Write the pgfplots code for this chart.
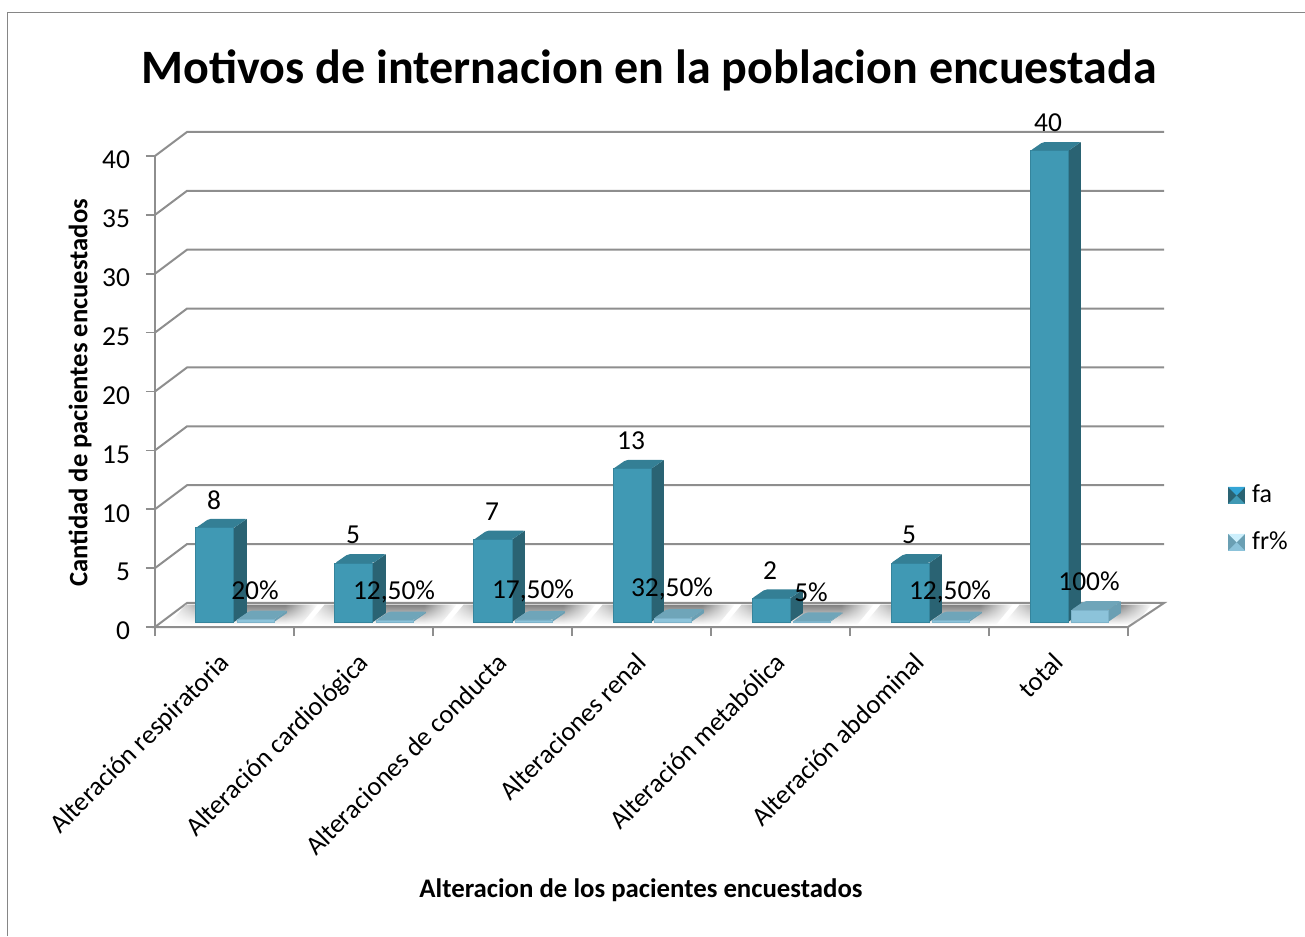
\documentclass[border=0pt]{standalone}
\usepackage{fontspec}
\setmainfont{Carlito}
\usepackage{pgfplots}
\usepackage{pgfplotstable}
\usetikzlibrary{fadings}
\pgfplotsset{compat=1.18}
\definecolor{gridc}{HTML}{8E8E8E}
\definecolor{frame}{HTML}{868686}
\definecolor{faF}{HTML}{4099B4}
\definecolor{faE}{HTML}{35849C}
\definecolor{faS}{HTML}{2A6373}
\definecolor{faT}{HTML}{347F95}
\definecolor{frF}{HTML}{8CC3DA}
\definecolor{frE}{HTML}{7DB3CA}
\definecolor{frS}{HTML}{6A9FB3}
\definecolor{frT}{HTML}{6FA5B9}
\definecolor{shad}{HTML}{808080}
\pgfdeclarehorizontalshading{floorshadow}{100bp}{color(0bp)=(white); color(25bp)=(white); color(40bp)=(shad); color(64bp)=(shad); color(75bp)=(white); color(100bp)=(white)}
\pgfplotstableread{
cat fa fr frlabel
0 8 0.2 20\%
1 5 0.125 12,50\%
2 7 0.175 17,50\%
3 13 0.325 32,50\%
4 2 0.05 5\%
5 5 0.125 12,50\%
6 40 1 100\%
}\motivos
\newcommand{\faces}[6]{%
  \pgfmathsetmacro{\xL}{#1+#2/139}%
  \pgfmathsetmacro{\xR}{\xL+#3/139}%
  \pgfmathsetmacro{\xRd}{\xR+13/139}%
  \pgfmathsetmacro{\xLd}{\xL+13/139}%
  \pgfmathsetmacro{\yb}{5/11.775}%
  \pgfmathsetmacro{\ybd}{\yb+0.764}%
  \pgfmathsetmacro{\yt}{\yb+#4}%
  \pgfmathsetmacro{\ytd}{\yt+0.764}%
  \addplot[forget plot,fill=#5,draw=none] coordinates {(\xR,\yb)(\xRd,\ybd)(\xRd,\ytd)(\xR,\yt)} --cycle;
  \addplot[forget plot,fill=#6,draw=none,rounded corners=1pt] coordinates {(\xL,\yt)(\xR,\yt)(\xRd,\ytd)(\xLd,\ytd)} --cycle;
}
\newcommand{\wall}[1]{%
  \pgfmathsetmacro{\yy}{#1+2.04}%
  \addplot[forget plot,color=gridc,line width=1pt] coordinates {(0,#1)(0.2302,\yy)(7.259,\yy)};
}
\newcommand{\shadow}[1]{%
  \pgfmathsetmacro{\xa}{#1+0.10}%
  \pgfmathsetmacro{\xb}{#1+1.05}%
  \pgfmathsetmacro{\xc}{#1+0.22}%
  \pgfmathsetmacro{\xd}{#1+1.17}%
  \addplot[forget plot,draw=none,shading=floorshadow,path fading=south] coordinates {(\xa,0.2)(\xb,0.2)(\xd,1.9)(\xc,1.9)} --cycle;
}
\begin{document}
\begin{tikzpicture}
\useasboundingbox (-77.5pt,-154.5pt) rectangle (575pt,313.5pt);
\draw[frame,line width=0.7pt] (-73.75pt,-154.5pt) -- (-73.75pt,307.25pt) -- (575pt,307.25pt);
\begin{axis}[
  at={(0,0)},anchor=south west,
  scale only axis,width=486.5pt,height=235.5pt,
  xmin=0,xmax=7,ymin=0,ymax=40,clip=false,
  axis x line*=bottom,axis y line*=left,
  axis line style={gridc,line width=1pt},
  tick style={gridc,line width=0.8pt},
  major tick length=4.5pt,
  tick align=outside,
  ytick={0,5,...,40},
  xtick={0,1,...,7},
  xticklabels={},
  extra x ticks={0.5,1.5,2.5,3.5,4.5,5.5,6.5},
  extra x tick labels={Alteración respiratoria,Alteración cardiológica,Alteraciones de conducta,Alteraciones renal,Alteración metabólica,Alteración abdominal,total},
  extra x tick style={major tick length=0pt,tick label style={font=\fontsize{13.3}{16}\selectfont,xshift=-3.3pt,yshift=-11.8pt,rotate=45,anchor=north east,inner sep=0pt}},
  tick label style={font=\fontsize{13.7}{16}\selectfont,black},
  /pgf/number format/assume math mode=true,
  yticklabel style={xshift=-4.5pt,yshift=-2pt},
  title={Motivos de internacion en la poblacion encuestada},
  title style={at={(axis description cs:0.508,1.189)},anchor=center,yshift=-7.5pt,font=\fontsize{24}{28}\selectfont\bfseries},
  xlabel={Alteracion de los pacientes encuestados},
  xlabel style={at={(axis description cs:0.4995,0)},anchor=center,yshift=-131.5pt,font=\fontsize{13.4}{16}\selectfont\bfseries},
  ylabel={Cantidad de pacientes encuestados},
  ylabel style={at={(axis description cs:0,0.497)},rotate=0,anchor=center,yshift=37.5pt,font=\fontsize{13.3}{16}\selectfont\bfseries},
  legend style={at={(rel axis cs:1.1025,0.3065)},anchor=north west,draw=none,fill=none,font=\fontsize{13}{15}\selectfont,row sep=11pt,inner sep=0pt,nodes={inner sep=1pt}},
  legend cell align=left,
]
\pgfplotsinvokeforeach{5,10,...,40}{\wall{#1}}
\addplot[forget plot,fill=white,draw=gridc,line width=1pt] coordinates {(0,0)(0.2302,2.04)(7.259,2.04)(7,0)} --cycle;
\pgfplotsinvokeforeach{0,...,6}{\shadow{#1}}
\faces{0}{41}{38}{8}{faS}{faT}\faces{0}{82}{37}{0.2}{frS}{frT}
\faces{1}{41}{38}{5}{faS}{faT}\faces{1}{82}{37}{0.125}{frS}{frT}
\faces{2}{41}{38}{7}{faS}{faT}\faces{2}{82}{37}{0.175}{frS}{frT}
\faces{3}{41}{38}{13}{faS}{faT}\faces{3}{82}{37}{0.325}{frS}{frT}
\faces{4}{41}{38}{2}{faS}{faT}\faces{4}{82}{37}{0.05}{frS}{frT}
\faces{5}{41}{38}{5}{faS}{faT}\faces{5}{82}{37}{0.125}{frS}{frT}
\faces{6}{41}{38}{40}{faS}{faT}\faces{6}{82}{37}{1}{frS}{frT}
\addplot[forget plot,ybar,bar width=19pt,bar shift=30pt,draw=faE,line width=0.5pt,fill=faF,yshift=2.5pt,
  nodes near coords,every node near coord/.style={font=\fontsize{13.7}{16}\selectfont,black,anchor=center,yshift=14pt,xshift=29.5pt}]
  table[x=cat,y=fa]{\motivos};
\addplot[forget plot,ybar,bar width=18.5pt,bar shift=50.25pt,draw=frE,line width=0.3pt,fill=frF,yshift=2.5pt,
  nodes near coords,point meta=explicit symbolic,every node near coord/.style={font=\fontsize{13.7}{16}\selectfont,black,anchor=center,yshift=14.5pt,xshift=50pt}]
  table[x=cat,y=fr,meta=frlabel]{\motivos};
\addlegendimage{legend image code/.code={\path[draw=none,fill=none] (0pt,0pt)--(11pt,0pt);\fill[faS,draw=none] (0pt,-4.25pt) rectangle (8.5pt,4.25pt);\fill[faF,draw=none] (0pt,-4.25pt)--(8.5pt,-4.25pt)--(4.25pt,0pt)--cycle;\fill[cyan!60!faF,draw=none] (0pt,4.25pt)--(8.5pt,4.25pt)--(4.25pt,0pt)--cycle;}}
\addlegendentry{fa}
\addlegendimage{legend image code/.code={\path[draw=none,fill=none] (0pt,0pt)--(11pt,0pt);\fill[frS,draw=none] (0pt,-4.25pt) rectangle (8.5pt,4.25pt);\fill[frF,draw=none] (0pt,-4.25pt)--(8.5pt,-4.25pt)--(4.25pt,0pt)--cycle;\fill[cyan!20!white,draw=none] (0pt,4.25pt)--(8.5pt,4.25pt)--(4.25pt,0pt)--cycle;}}
\addlegendentry{fr\%}
\end{axis}
\end{tikzpicture}
\end{document}
